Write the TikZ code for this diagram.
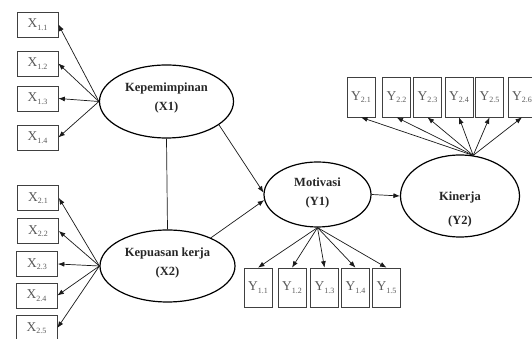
\documentclass[tikz,border=0pt]{standalone}
\usepackage{fontspec}
\setmainfont{Liberation Serif}
\usetikzlibrary{shapes.geometric,arrows.meta}
\newcommand{\ind}[2]{#1{\fontsize{8}{8}\selectfont\raisebox{-2.4pt}{#2}}}
\begin{document}
\begin{tikzpicture}[x=1pt,y=1pt,
  lat/.style={draw=black,line width=1.2pt,ellipse,inner sep=0pt},
  lattext/.style={font=\bfseries\fontsize{12.5}{19}\selectfont,align=center,text=black!85},
  xbox/.style={draw=black!75,line width=0.7pt,minimum width=41pt,minimum height=25pt,inner sep=0pt,text=black!65,font=\fontsize{13.5}{13.5}\selectfont},
  ybox/.style={draw=black!75,line width=0.7pt,minimum width=28pt,minimum height=39pt,inner sep=0pt,text=black!65,font=\fontsize{13.5}{13.5}\selectfont},
  arr/.style={line width=0.7pt,black!90,-{Latex[length=6.5pt,width=5pt]}},
  ln/.style={line width=0.7pt,black!90}]
\useasboundingbox (0,0) rectangle (532,339);
% latent variables
\node[lat,minimum width=134pt,minimum height=73pt] (k1) at (166.5,237.5) {};
\node[lattext] (k1t) at (166.5,241.5) {Kepemimpinan\\(X1)};
\node[lat,minimum width=135pt,minimum height=72pt] (k2) at (167.5,73) {};
\node[lattext] (k2t) at (167.5,76.5) {Kepuasan kerja\\(X2)};
\node[lat,minimum width=107pt,minimum height=65pt] (mot) at (317.5,144.5) {};
\node[lattext] (mott) at (317.5,146) {Motivasi\\(Y1)};
\node[lat,minimum width=119pt,minimum height=82pt] (kin) at (460,143) {};
\node[lattext,font=\bfseries\fontsize{12.5}{24}\selectfont] (kint) at (460,130) {Kinerja\\(Y2)};
% indicator boxes X1
\node[xbox] (x11) at (37.5,314.5) {\ind{X}{1.1}};
\node[xbox] (x12) at (37.5,275.5) {\ind{X}{1.2}};
\node[xbox] (x13) at (37.5,240.5) {\ind{X}{1.3}};
\node[xbox] (x14) at (37.5,201.5) {\ind{X}{1.4}};
% indicator boxes X2
\node[xbox] (x21) at (38,141) {\ind{X}{2.1}};
\node[xbox] (x22) at (38,108) {\ind{X}{2.2}};
\node[xbox] (x23) at (37,75) {\ind{X}{2.3}};
\node[xbox] (x24) at (36.5,43.5) {\ind{X}{2.4}};
\node[xbox] (x25) at (36.5,11) {\ind{X}{2.5}};
% indicator boxes Y1
\node[ybox] (y11) at (258,51.5) {\ind{Y}{1.1}};
\node[ybox] (y12) at (292,51.5) {\ind{Y}{1.2}};
\node[ybox] (y13) at (324.5,51.5) {\ind{Y}{1.3}};
\node[ybox] (y14) at (355.5,51.5) {\ind{Y}{1.4}};
\node[ybox] (y15) at (386.5,51.5) {\ind{Y}{1.5}};
% indicator boxes Y2
\node[ybox,minimum height=40pt] (y21) at (361,242) {\ind{Y}{2.1}};
\node[ybox,minimum height=40pt] (y22) at (396.5,242) {\ind{Y}{2.2}};
\node[ybox,minimum height=40pt] (y23) at (427.5,242) {\ind{Y}{2.3}};
\node[ybox,minimum height=40pt] (y24) at (459,242) {\ind{Y}{2.4}};
\node[ybox,minimum height=40pt] (y25) at (489.5,242) {\ind{Y}{2.5}};
\node[ybox,minimum height=40pt] (y26) at (522,242) {\ind{Y}{2.6}};
% loadings
\foreach \b in {x11,x12,x13,x14} \draw[arr] (k1.west) -- (\b.east);
\foreach \b in {x21,x22,x23,x24,x25} \draw[arr] (k2.west) -- (\b.east);
\foreach \b in {y11,y12,y13,y14,y15} \draw[arr] (mot.south) -- (\b.north);
\foreach \b in {y21,y22,y23,y24,y25,y26} \draw[arr] (kin.72) -- (\b.south);
% structural paths
\draw[ln] (k1.south) -- (k2.north);
\draw[arr] (k1.-24) -- (mot.178);
\draw[arr] (k2.33) -- (mot.186);
\draw[arr] (mot.east) -- (kin.west);
\end{tikzpicture}
\end{document}
